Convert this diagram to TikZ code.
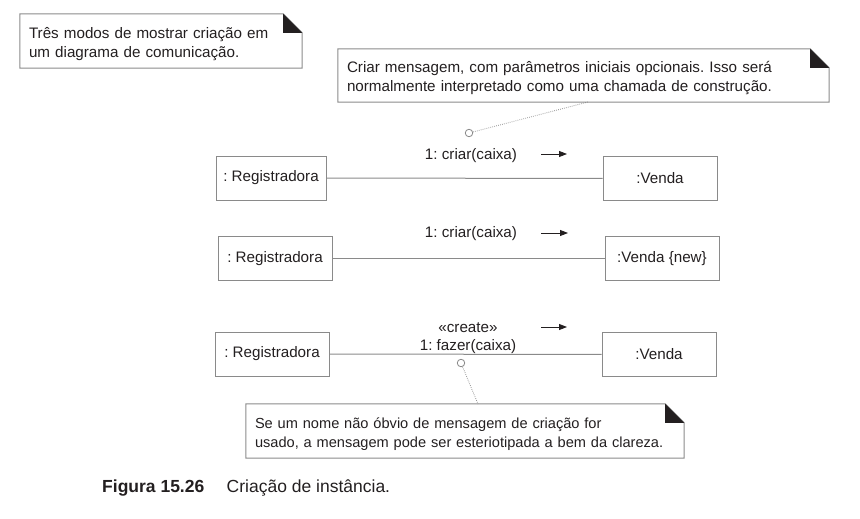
\documentclass[tikz,border=0pt]{standalone}
\usepackage{fontspec}
\setmainfont{Liberation Sans}
\usepackage{tikz}
\usetikzlibrary{
	positioning,
	arrows.meta
}

\definecolor{borda}{HTML}{8A8A8A}
\definecolor{tinta}{HTML}{231F20}

\tikzset{
	objeto/.style={draw=borda,line width=1pt,minimum width=114pt,minimum height=44pt,inner sep=0pt,text=tinta},
	nota/.style={text width=#1,align=left,inner xsep=9pt,inner ysep=0pt,minimum height=54pt,text=tinta},
	elo/.style={draw=borda,line width=1pt},
	ancora/.style={circle,draw=borda,line width=0.8pt,inner sep=0pt,minimum size=7.5pt,fill=white},
	pontilhado/.style={draw=borda,line width=0.8pt,dash pattern=on 0.7pt off 1.3pt},
	msg/.style={draw=tinta,line width=0.9pt,-{Triangle[length=8pt,width=6pt]}},
	rotulo/.style={text=tinta,inner sep=0pt,align=center}
}

% contorno da nota, 3pt acima do texto
\newcommand{\dobra}[1]{
	\draw[elo] ([yshift=3pt]#1.north west) -- ([shift={(-19pt,3pt)}]#1.north east) -- ([shift={(0pt,-16pt)}]#1.north east) -- ([yshift=3pt]#1.south east) -- ([yshift=3pt]#1.south west) -- cycle;
	\fill[tinta] ([shift={(-19pt,3pt)}]#1.north east) -- ([shift={(0pt,-16pt)}]#1.north east) -- ([shift={(-19pt,-16pt)}]#1.north east) -- cycle;
}

\frenchspacing

\begin{document}
\begin{tikzpicture}[x=1pt,y=-1pt,font=\fontsize{15.2}{19}\selectfont]
	\useasboundingbox (0,0) rectangle (860,519);

	% notas
	\node [nota=264pt]                     (n1) at (161,44)    {Três modos de mostrar criação em\\um diagrama de comunicação.};
	\node [nota=473pt,minimum height=53pt] (n2) at (583.5,78.5) {Criar mensagem, com parâmetros iniciais opcionais. Isso será\\normalmente interpretado como uma chamada de construção.};
	\node [nota=420pt,font=\fontsize{14.6}{19}\selectfont] (n3) at (465,434) {Se um nome não óbvio de mensagem de criação for\\usado, a mensagem pode ser esteriotipada a bem da clareza.};
	\dobra{n1}
	\dobra{n2}
	\dobra{n3}

	% objetos
	\node [objeto,minimum width=110pt] (r1) at (271,178)   {: Registradora};
	\node [objeto]                     (v1) at (660,178.5) {:Venda};
	\node [objeto]                     (r2) at (275,258.5) {: Registradora};
	\node [objeto]                     (v2) at (662,258.5) {:Venda \{new\}};
	\node [objeto]                     (r3) at (272,354)   {: Registradora};
	\node [objeto]                     (v3) at (659,354.5) {:Venda};

	% mensagens
	\node [rotulo] (m1) at (471,156) {1: criar(caixa)};
	\node [rotulo] (m2) at (471,234) {1: criar(caixa)};
	\node [rotulo] (m3) at (468,338.5) {«create»\\[-1pt]1: fazer(caixa)};
	\coordinate (s1) at (541,154); \coordinate (e1) at (567,154);
	\coordinate (s2) at (541,233); \coordinate (e2) at (568,233);
	\coordinate (s3) at (541,327); \coordinate (e3) at (567,327);

	\node [ancora] (c1) at (469,133) {};
	\node [ancora] (c3) at (461,363) {};
	\coordinate (p2) at (588,102);
	\coordinate (p3) at (478,404);

	\draw
		(r1) edge[elo] (v1)
		(r2) edge[elo] (v2)
		(r3) edge[elo] (v3)
		(s1) edge[msg] (e1)
		(s2) edge[msg] (e2)
		(s3) edge[msg] (e3)
		(c1) edge[pontilhado] (p2)
		(c3) edge[pontilhado] (p3)
	;

	% legenda
	\node [rotulo,anchor=west,font=\fontsize{17.5}{21}\selectfont\bfseries] (fig) at (102,488) {Figura 15.26};
	\node [rotulo,right=22pt of fig,font=\fontsize{17.5}{21}\selectfont] (leg) {Criação de instância.};
\end{tikzpicture}
\end{document}
